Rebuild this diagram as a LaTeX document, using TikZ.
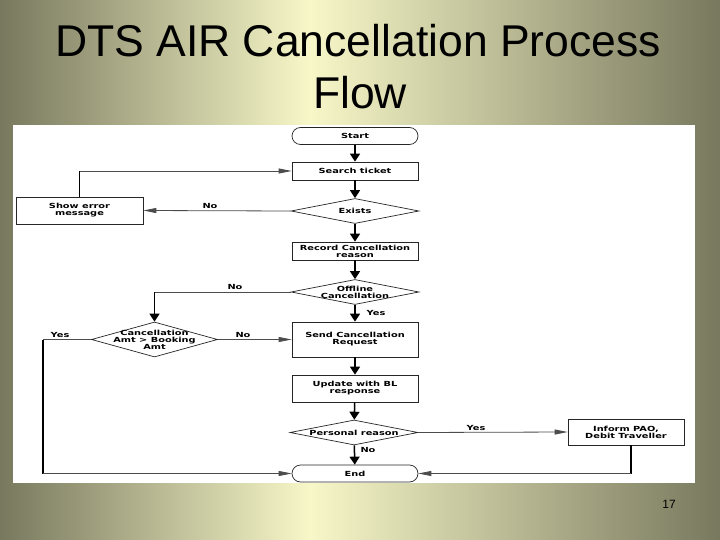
\documentclass[tikz,border=0pt]{standalone}
\usepackage{fontspec}
\setmainfont{Liberation Sans}
\newfontfamily\fcfont[FakeStretch=1.4]{DejaVu Sans Bold}
\usetikzlibrary{arrows.meta,shapes.geometric}
\definecolor{bgdark}{RGB}{120,120,94}
\definecolor{bglight}{RGB}{247,247,200}
\newcommand\fcsize{\fcfont\fontsize{7}{7}\selectfont}
\tikzset{
  procbox/.style={draw=black!85, line width=0.7pt, fill=white, minimum width=126pt, minimum height=18pt, inner sep=0pt, font=\fcsize, align=center},
  term/.style={procbox, rounded corners=8.5pt},
  dia/.style={draw=black!85, line width=0.7pt, fill=white, shape=diamond, aspect=5, minimum width=128pt, minimum height=25pt, inner sep=0pt},
  lbl/.style={font=\fcsize, align=center, inner sep=0pt},
  vline/.style={draw=black, line width=1.5pt},
  hline/.style={draw=black!70, line width=0.8pt},
  vconn/.style={vline, -{Triangle[length=8pt,width=10pt]}},
  hconn/.style={hline, -{Triangle[length=13pt,width=5pt]}},
  titletext/.style={font=\fontsize{44.5}{50}\selectfont, inner sep=0pt, anchor=base},
}
\begin{document}
\begin{tikzpicture}[x=1pt,y=-1pt]
\useasboundingbox (0,0) rectangle (720,540);
\shade[left color=bgdark, right color=bglight] (0,0) rectangle (310,540);
\shade[left color=bglight, right color=bgdark] (309.5,0) rectangle (720,540);
\node[titletext] (t1) at (358,57) {DTS AIR Cancellation Process};
\node[titletext] (t2) at (360,109) {Flow};
\node[font=\fontsize{12}{14}\selectfont, inner sep=0pt] (pg) at (669,504) {17};
\fill[white] (13,125) rectangle (695,483);
% nodes
\node[term, minimum height=17pt] (start) at (355,136) {Start};
\node[procbox] (search) at (355,171) {Search ticket};
\node[dia] (exists) at (355,211) {};
\node[lbl] at (exists) {Exists};
\node[procbox] (record) at (355,251) {Record Cancellation\\reason};
\node[dia] (offline) at (355,292) {};
\node[lbl] at (offline) {Offline\\Cancellation};
\node[procbox, minimum height=35pt] (send) at (355,339.5) {Send Cancellation\\Request};
\node[dia, minimum width=126pt, minimum height=35pt] (cancel) at (154.5,339.5) {};
\node[lbl] at (cancel) {Cancellation\\Amt > Booking\\Amt};
\node[procbox, minimum height=27pt] (update) at (355,388.5) {Update with BL\\response};
\node[dia] (personal) at (354,432.5) {};
\node[lbl] at (personal) {Personal reason};
\node[term, minimum height=17pt] (end) at (355,473.5) {End};
\node[procbox, minimum width=127pt, minimum height=27pt] (showerr) at (79.5,210.5) {Show error\\message};
\node[procbox, minimum width=116pt, minimum height=26pt] (inform) at (626,432) {Inform PAO,\\Debit Traveller};
% connectors
\draw[vconn] (start) -- (search);
\draw[vconn] (search) -- (exists);
\draw[hconn] (exists.west) -- (showerr.east);
\coordinate (c1) at (showerr.north |- search.west);
\draw[vline] (showerr.north) -- (c1);
\draw[hconn] (c1) -- (search.west);
\draw[vconn] (exists) -- (record);
\draw[vconn] (record) -- (offline);
\coordinate (c2) at (cancel.north |- offline.west);
\draw[hline] (offline.west) -- (c2);
\draw[vconn] (c2) -- (cancel.north);
\draw[vconn] (offline) -- (send);
\draw[hconn] (cancel.east) -- (send.west);
\coordinate (c3) at (43,339.5);
\coordinate (c4) at (c3 |- end.west);
\draw[hline] (cancel.west) -- (c3);
\draw[vline] (c3) -- (c4);
\draw[hconn] (c4) -- (end.west);
\draw[vconn] (send) -- (update);
\draw[vconn] (update) -- (personal);
\draw[vconn] (personal) -- (end);
\draw[hconn] (personal.east) -- (inform.west);
\coordinate (c5) at ([xshift=5pt]inform.south |- end.east);
\draw[vline] ([xshift=5pt]inform.south) -- (c5);
\draw[hconn] (c5) -- (end.east);
% labels
\node[lbl] (l1) at (210,206) {No};
\node[lbl] (l2) at (235,286.5) {No};
\node[lbl] (l3) at (376,313) {Yes};
\node[lbl] (l4) at (243,335) {No};
\node[lbl] (l5) at (60,335) {Yes};
\node[lbl] (l6) at (476,428) {Yes};
\node[lbl] (l7) at (368,450) {No};
\end{tikzpicture}
\end{document}
